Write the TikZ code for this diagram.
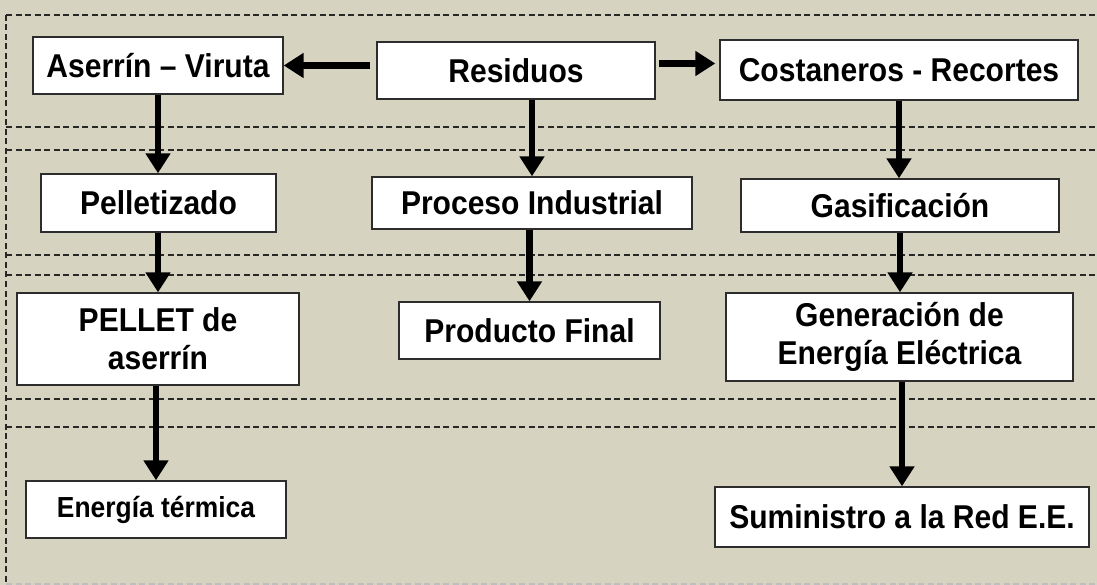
\documentclass[tikz,border=0pt]{standalone}
\usepackage{fontspec}
\setmainfont{Liberation Sans}
\newfontfamily\labfont{Liberation Sans}[FakeStretch=0.91]
\usetikzlibrary{arrows.meta}
\definecolor{bgc}{RGB}{214,212,193}
\definecolor{dashc}{RGB}{40,40,38}
\definecolor{boxc}{RGB}{45,45,45}
\tikzset{
  box/.style={draw=boxc, line width=1.4pt, fill=white, rectangle, inner sep=0pt,
    align=center, font=\labfont\bfseries\fontsize{33}{38}\selectfont},
  arr/.style={line width=6.5pt, -{Triangle[width=24pt,length=20pt]}},
  sep/.style={draw=dashc, line width=1.3pt, dash pattern=on 6pt off 3.5pt}
}
\begin{document}
\begin{tikzpicture}[x=1pt,y=-1pt]
\fill[bgc] (0,0) rectangle (1097,585);
\useasboundingbox (0,0) rectangle (1097,585);
% separators
\foreach \yy in {15,127,150,255,275,399,427} {\draw[sep] (6,\yy) -- (1097,\yy);}
\draw[sep, draw=dashc!30] (6,584) -- (1097,584);
\draw[sep] (6,15) -- (6,585);
% nodes
\node[box, minimum width=250pt, minimum height=57pt] (asr) at (158,65.5) {Aserrín – Viruta};
\node[box, minimum width=278pt, minimum height=57pt] (res) at (516,70.5) {Residuos};
\node[box, minimum width=358pt, minimum height=60pt] (cos) at (899,70) {Costaneros - Recortes};
\node[box, minimum width=235pt, minimum height=58pt] (pel) at (158.5,203) {Pelletizado};
\node[box, minimum width=320pt, minimum height=52pt] (pro) at (532,203) {Proceso Industrial};
\node[box, minimum width=318pt, minimum height=53pt] (gas) at (900,205.5) {Gasificación};
\node[box, minimum width=282pt, minimum height=92pt] (pellet) at (158,339) {PELLET de\\aserrín};
\node[box, minimum width=261pt, minimum height=57pt] (prod) at (529.5,330.5) {Producto Final};
\node[box, minimum width=347pt, minimum height=88pt] (gen) at (899.5,337) {Generación de\\Energía Eléctrica};
\node[box, minimum width=260pt, minimum height=57pt, font=\labfont\bfseries\fontsize{29}{34}\selectfont] (ene) at (156,509.5) {Energía térmica};
\node[box, minimum width=374pt, minimum height=60pt] (sum) at (902,517) {Suministro a la Red E.E.};
% connectors
\draw[arr, shorten <=6pt] (res.west |- asr.east) -- (asr.east);
\draw[arr, shorten <=3pt, shorten >=4pt] ([yshift=7pt]res.east) -- ([yshift=7pt]res.east -| cos.west);
\draw[arr] (asr.south) -- (asr.south |- pel.north);
\draw[arr] (pro.north |- res.south) -- (pro.north);
\draw[arr] (cos.south) -- (cos.south |- gas.north);
\draw[arr] (pel.south -| pellet.north) -- (pellet.north);
\draw[arr] (prod.north |- pro.south) -- (prod.north);
\draw[arr] (gas.south) -- (gas.south |- gen.north);
\draw[arr] (pellet.south -| ene.north) -- (ene.north);
\draw[arr] (gen.south -| sum.north) -- (sum.north);
\end{tikzpicture}
\end{document}
